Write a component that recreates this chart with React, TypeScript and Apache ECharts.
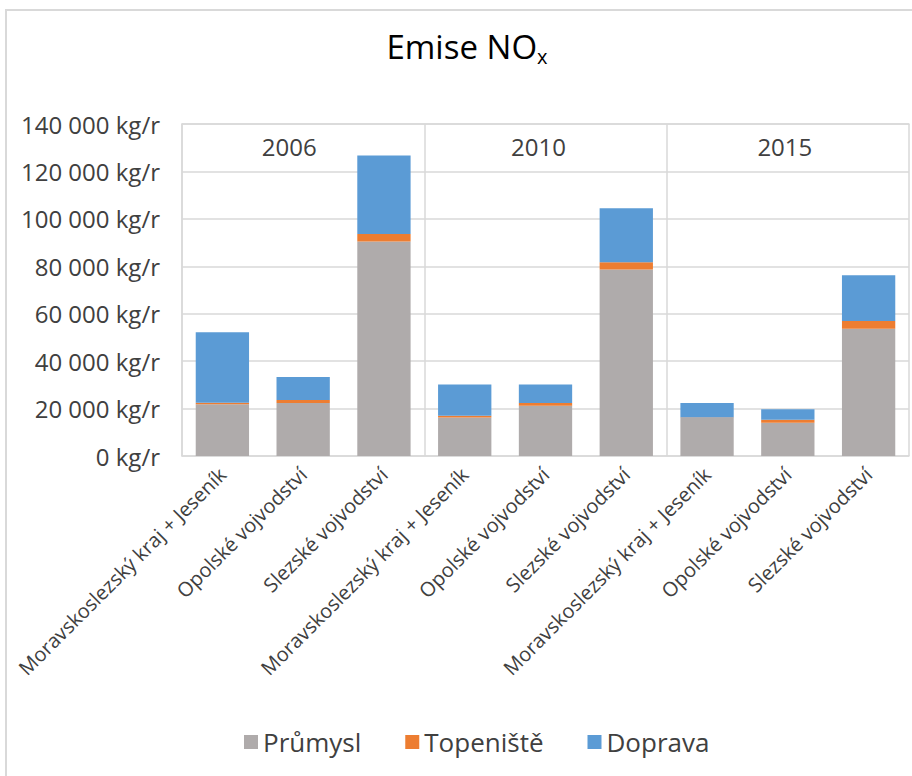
import React, { useEffect, useRef } from "react";
import * as echarts from "echarts";

const years = ["2006", "2010", "2015"];
const regions = ["Moravskoslezský kraj + Jeseník", "Opolské vojvodství", "Slezské vojvodství"];
const seriesNames = ["Průmysl", "Topeniště", "Doprava"];
const prumysl = [21800, 22400, 90400, 16200, 21200, 78600, 16000, 14000, 53700];
const topeniste = [700, 1200, 3200, 800, 1200, 3100, 200, 1300, 3200];
const doprava = [29700, 9700, 33100, 13200, 7800, 22800, 6200, 4400, 19300];
const yTicks = [0, 20000, 40000, 60000, 80000, 100000, 120000, 140000];
const colors = ["#AFABAB", "#ED7D31", "#5B9BD5"];

const FONT = "Open Sans";

export default function App() {
  const ref = useRef<HTMLDivElement>(null);
  useEffect(() => {
    if (!ref.current) return;
    const chart = echarts.init(ref.current, null, { renderer: "svg" });
    const categories: string[] = [];
    years.forEach(() => regions.forEach((r) => categories.push(r)));
    const fmt = (v: number) => String(v).replace(/\B(?=(\d{3})+(?!\d))/g, " ") + " kg/r";
    const values = [prumysl, topeniste, doprava];
    const yearShift = [28, 14, 6];
    const yearRich: Record<string, any> = {};
    years.forEach((y, i) => {
      yearRich["y" + i] = { fontSize: 24, color: "#404040", fontFamily: FONT, padding: [0, yearShift[i], 0, 0] };
    });
    chart.setOption({
      animation: false,
      backgroundColor: "#ffffff",
      textStyle: { fontFamily: FONT },
      graphic: [
        {
          type: "rect",
          shape: { x: 6, y: 10, width: 930, height: 800 },
          style: { fill: "none", stroke: "#d9d9d9", lineWidth: 2 },
          silent: true,
        },
        {
          type: "text",
          x: 467,
          y: 26,
          style: {
            text: "{a|Emise NO}{b|x}",
            align: "center",
            rich: {
              a: { fontSize: 33, fontFamily: FONT, fill: "#000000", lineHeight: 40 },
              b: { fontSize: 20, fontFamily: FONT, fill: "#000000", lineHeight: 20, padding: [29, 0, 0, 0], verticalAlign: "bottom" },
            },
          },
        },
      ],
      legend: {
        bottom: 16,
        left: 239,
        icon: "rect",
        itemWidth: 14,
        itemHeight: 14,
        itemGap: 44,
        textStyle: { fontSize: 26, color: "#404040", fontFamily: FONT },
        data: seriesNames,
      },
      grid: { left: 182, right: 3, top: 124, bottom: 320, containLabel: false },
      xAxis: [
        {
          type: "category",
          data: categories,
          axisLine: { show: true, lineStyle: { color: "#d9d9d9", width: 1.5 } },
          axisTick: { show: false },
          axisLabel: { interval: 0, rotate: 45, fontSize: 20, color: "#404040", margin: 15, fontFamily: FONT },
          splitLine: { show: false },
        },
        {
          type: "category",
          data: years,
          position: "top",
          axisLine: { show: true, lineStyle: { color: "#d9d9d9", width: 1.5 } },
          axisTick: { show: false },
          axisLabel: {
            inside: true,
            interval: 0,
            fontSize: 24,
            color: "#404040",
            margin: 10,
            fontFamily: FONT,
            formatter: (v: string, i: number) => "{y" + i + "|" + v + "}",
            rich: yearRich,
          },
          splitLine: { show: true, interval: 0, lineStyle: { color: "#d9d9d9", width: 1.5 } },
        },
      ],
      yAxis: {
        type: "value",
        min: 0,
        max: yTicks[yTicks.length - 1],
        interval: yTicks[1] - yTicks[0],
        axisLine: { show: true, lineStyle: { color: "#d9d9d9", width: 1.5 } },
        axisTick: { show: false },
        axisLabel: { formatter: fmt, fontSize: 24, color: "#404040", margin: 22, fontFamily: FONT },
        splitLine: { show: true, lineStyle: { color: "#d9d9d9", width: 1.5 } },
      },
      series: seriesNames.map((name, i) => ({
        name,
        type: "bar",
        stack: "total",
        xAxisIndex: 0,
        barWidth: "66%",
        itemStyle: { color: colors[i] },
        data: values[i],
      })),
    });
    return () => chart.dispose();
  }, []);
  return (
    <div
      ref={ref}
      style={{ position: "absolute", left: 0, top: 0, width: 912, height: 776, background: "#fff" }}
    />
  );
}
